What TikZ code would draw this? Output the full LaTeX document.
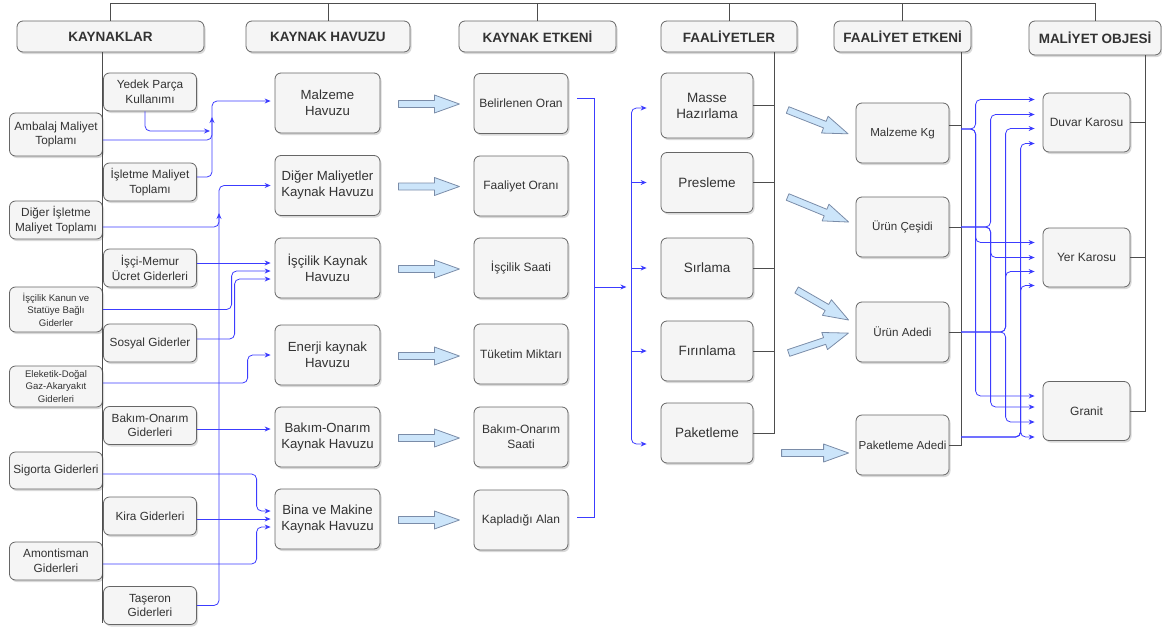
\documentclass[tikz,border=0pt]{standalone}
\usepackage{fontspec}
\setmainfont{Liberation Sans}
\usetikzlibrary{arrows.meta,calc,shadows}

\definecolor{boxfill}{HTML}{F5F5F5}
\definecolor{boxline}{HTML}{666666}
\definecolor{boxtext}{HTML}{333333}
\definecolor{flowblue}{HTML}{3C3CFF}
\definecolor{spinegray}{HTML}{4D4D4D}
\definecolor{fatfill}{HTML}{CCE5FA}
\definecolor{fatline}{HTML}{7A8CA8}

% block arrow: start, angle, length
\newcommand\fatarrow[3]{%
  \begin{scope}[shift={#1}, rotate=#2]
    \draw[fat] (0,-3.5) -- (#3-25,-3.5) -- (#3-25,-9) -- (#3,0) -- (#3-25,9) -- (#3-25,3.5) -- (0,3.5) -- cycle;
  \end{scope}}

\begin{document}
\begin{tikzpicture}[
    x=1pt, y=-1pt, >=Stealth,
    box/.style={rectangle, rounded corners=6pt, draw=boxline, fill=boxfill, text=boxtext, align=center, inner sep=2pt, line width=0.8pt,
        drop shadow={shadow xshift=1.5pt, shadow yshift=-2pt, opacity=0.3}},
    head/.style={box, font=\fontsize{13.5}{15}\selectfont\bfseries, minimum height=31pt},
    src/.style={box, minimum width=93pt, minimum height=38pt, font=\fontsize{11.8}{14.5}\selectfont},
    threeline/.style={font=\fontsize{9.6}{12.5}\selectfont},
    pool/.style={box, minimum width=105pt, minimum height=60pt, font=\fontsize{13.2}{16}\selectfont},
    drv/.style={box, minimum width=94pt, minimum height=60pt, font=\fontsize{12}{15}\selectfont},
    act/.style={box, minimum width=92pt, minimum height=60pt, font=\fontsize{13.5}{16}\selectfont},
    adrv/.style={box, minimum width=93pt, minimum height=60pt, font=\fontsize{11.6}{14}\selectfont},
    obj/.style={box, minimum width=87pt, minimum height=59pt, font=\fontsize{12}{14}\selectfont},
    spine/.style={draw=spinegray, line width=0.9pt},
    flow/.style={draw=flowblue, line width=0.8pt, rounded corners=5pt, -{Stealth[length=6pt, width=5pt]}},
    bline/.style={draw=flowblue, line width=0.8pt},
    gap/.style={shorten >=#1},
    fat/.style={draw=fatline, fill=fatfill, line width=0.8pt, line join=round}
]
    \useasboundingbox (0,0) rectangle (1162,629);

    % Headers
    \node[head, minimum width=187pt] (hK) at (110.5,36.5) {KAYNAKLAR};
    \node[head, minimum width=164pt] (hH) at (328,36.5) {KAYNAK HAVUZU};
    \node[head, minimum width=157pt] (hE) at (537.5,36.5) {KAYNAK ETKENİ};
    \node[head, minimum width=136pt] (hF) at (729,36.5) {FAALİYETLER};
    \node[head, minimum width=137pt] (hFE) at (902.5,36.5) {FAALİYET ETKENİ};
    \node[head, minimum width=132pt, minimum height=34pt] (hO) at (1095,38) {MALİYET OBJESİ};

    % Kaynaklar
    \node[src, minimum height=43pt] (amb) at (56,134.5) {Ambalaj Maliyet\\Toplamı};
    \node[src] (digi) at (56,220) {Diğer İşletme\\Maliyet Toplamı};
    \node[src, threeline, minimum height=45pt] (kanun) at (56,309.5) {İşçilik Kanun ve\\Statüye Bağlı\\Giderler};
    \node[src, threeline, minimum height=41pt] (elek) at (56,386.5) {Eleketik-Doğal\\Gaz-Akaryakıt\\Giderleri};
    \node[src, minimum height=37pt] (sig) at (56,470.5) {Sigorta Giderleri};
    \node[src] (amo) at (56,561) {Amontisman\\Giderleri};

    \node[src] (yedek) at (150,92) {Yedek Parça\\Kullanımı};
    \node[src] (islet) at (150,182) {İşletme Maliyet\\Toplamı};
    \node[src] (isci) at (150,268) {İşçi-Memur\\Ücret Giderleri};
    \node[src] (sosyal) at (150,343) {Sosyal Giderler};
    \node[src] (bakg) at (150,425.5) {Bakım-Onarım\\Giderleri};
    \node[src] (kira) at (150,516) {Kira Giderleri};
    \node[src] (taser) at (150,605.5) {Taşeron\\Giderleri};

    % Kaynak havuzu
    \node[pool] (malz) at (327.5,103) {Malzeme\\Havuzu};
    \node[pool] (dmk) at (327.5,185.5) {Diğer Maliyetler\\Kaynak Havuzu};
    \node[pool] (iscp) at (327.5,268) {İşçilik Kaynak\\Havuzu};
    \node[pool] (enp) at (327.5,355) {Enerji kaynak\\Havuzu};
    \node[pool] (bakp) at (327.5,437) {Bakım-Onarım\\Kaynak Havuzu};
    \node[pool] (binp) at (327.5,519) {Bina ve Makine\\Kaynak Havuzu};

    % Kaynak etkeni
    \node[drv] (belo) at (521,103.5) {Belirlenen Oran};
    \node[drv] (faor) at (521,186) {Faaliyet Oranı};
    \node[drv] (issa) at (521,268) {İşçilik Saati};
    \node[drv] (tuke) at (521,354) {Tüketim Miktarı};
    \node[drv] (bosa) at (521,437) {Bakım-Onarım\\Saati};
    \node[drv] (kapl) at (521,520) {Kapladığı Alan};

    % Faaliyetler
    \node[act, minimum height=65pt] (masse) at (707,105.5) {Masse\\Hazırlama};
    \node[act] (pres) at (707,182.5) {Presleme};
    \node[act] (sirl) at (707,268) {Sırlama};
    \node[act] (firin) at (707,351) {Fırınlama};
    \node[act] (pak) at (707,433) {Paketleme};

    % Faaliyet etkeni
    \node[adrv] (mk) at (902.5,133) {Malzeme Kg};
    \node[adrv] (uc) at (902.5,227) {Ürün Çeşidi};
    \node[adrv] (ua) at (902.5,332) {Ürün Adedi};
    \node[adrv] (pa) at (902.5,445) {Paketleme Adedi};

    % Maliyet objesi
    \node[obj] (duvar) at (1086.5,122.5) {Duvar Karosu};
    \node[obj] (yer) at (1086.5,257.5) {Yer Karosu};
    \node[obj] (granit) at (1086.5,411) {Granit};

    % Tree lines
    \coordinate (top) at (0,3);
    \draw[spine] (hK.north) |- (hO.north |- top) -- (hO.north);
    \foreach \h in {hH,hE,hF,hFE}
        \draw[spine] (\h.north) -- (\h.north |- top);
    \draw[spine] (hK.south -| amb.east) -- ($(taser.south -| amb.east)+(0,-2)$);

    \coordinate (spF) at ($(hF.south)+(45,0)$);
    \draw[spine] (spF) |- (pak.east);
    \foreach \a in {masse,pres,sirl,firin}
        \draw[spine] (\a.east) -- (\a.east -| spF);

    \coordinate (spFE) at ($(hFE.south)+(58.5,0)$);
    \draw[spine] (spFE) |- (pa.east);
    \draw[spine] ($(mk.east)+(0,-8)$) -- ($(mk.east -| spFE)+(0,-8)$);
    \foreach \a in {uc,ua}
        \draw[spine] (\a.east) -- (\a.east -| spFE);

    \coordinate (spO) at ($(hO.south)+(50,0)$);
    \draw[spine] (spO) |- (granit.east);
    \foreach \a in {duvar,yer}
        \draw[spine] (\a.east) -- (\a.east -| spO);

    % Kaynaklar -> havuzlar
    \coordinate (tA) at (212,0);
    \coordinate (tB) at (219,0);
    \draw[flow] ([xshift=-5pt]yedek.south) |- ($(tA)+(-2,131)$);
    \draw[flow] ($(amb.east)+(0,5.5)$) -| ($(tA)+(0,117)$);
    \draw[flow, gap=4pt] ($(islet.east)+(0,-5)$) -| ($(tA |- malz.west)+(0,-2)$) -- ($(malz.west)+(0,-2)$);
    \draw[flow, gap=4pt] (taser.east) -| (tB |- dmk.west) -- (dmk.west);
    \draw[flow] ($(digi.east)+(0,7)$) -| ($(tB)+(0,213)$);
    \draw[flow, gap=4pt] ($(isci.east)+(0,-5)$) -- ($(iscp.west)+(0,-5)$);
    \draw[flow, gap=4pt] (kanun.east) -| ($(iscp.west)+(-43,3)$) -- ($(iscp.west)+(0,3)$);
    \draw[flow, gap=4pt] ($(sosyal.east)+(0,-4)$) -| ($(iscp.west)+(-40,11)$) -- ($(iscp.west)+(0,11)$);
    \draw[flow, gap=4pt] ($(elek.east)+(0,-3.5)$) -| ($(enp.west)+(-27,0)$) -- (enp.west);
    \draw[flow, gap=4pt] ($(bakg.east)+(0,3.5)$) -- ($(bakp.west)+(0,-8)$);
    \draw[flow, gap=4pt] ($(sig.east)+(0,3.5)$) -| ($(binp.west)+(-18,-8)$) -- ($(binp.west)+(0,-8)$);
    \draw[flow, gap=4pt] ($(kira.east)+(0,3)$) -- (binp.west);
    \draw[flow, gap=4pt] ($(amo.east)+(0,3)$) -| ($(binp.west)+(-18,8)$) -- ($(binp.west)+(0,8)$);

    % Havuz -> etken
    \foreach \p in {malz,dmk,iscp,enp,bakp,binp}
        \fatarrow{($(\p.east)+(18,1)$)}{0}{61};

    % Etken -> faaliyetler
    \draw[bline] ($(belo.east)+(9,-5)$) -| ($(kapl.east)+(26,-3)$) -- ($(kapl.east)+(9,-3)$);
    \coordinate (brk) at ($(issa.east)+(26,19)$);
    \coordinate (fan) at ($(brk)+(37,0)$);
    \draw[flow] (brk) -- ($(fan)+(-5,0)$);
    \draw[flow, gap=14pt] (fan) |- ($(masse.west)+(0,2.5)$);
    \draw[flow, gap=14pt] (fan) |- ($(pak.west)+(0,11)$);
    \foreach \a in {pres,sirl,firin}
        \draw[flow, gap=14pt] (fan |- \a.west) -- (\a.west);

    % Faaliyetler -> faaliyet etkeni
    \fatarrow{($(mk.west)+(-68,-23)$)}{-21.5}{65}
    \fatarrow{($(uc.west)+(-68,-30)$)}{-22.3}{66}
    \fatarrow{($(ua.west)+(-59,-42)$)}{-30}{60}
    \fatarrow{($(ua.west)+(-67,21)$)}{18.4}{63}
    \fatarrow{($(pa.west)+(-74,8)$)}{0}{67}

    % Faaliyet etkeni -> maliyet objesi
    \coordinate (s1) at ($(mk.east -| spFE)+(0,-4)$);
    \coordinate (s2) at (uc.east -| spFE);
    \coordinate (s3) at (ua.east -| spFE);
    \coordinate (s4) at ($(pa.east -| spFE)+(0,-8)$);
    \foreach \s/\t/\da/\db/\dc in {s1/-67/-23/-15/-15, s2/-52/-8/0/-4, s3/-37/6/14/11, s4/-22/21/28/26}{
        \draw[flow, gap=8pt] (\s) -| ($(duvar.west)+(\t,\da)$) -- ($(duvar.west)+(0,\da)$);
        \draw[flow, gap=8pt] (\s) -| ($(yer.west)+(\t,\db)$) -- ($(yer.west)+(0,\db)$);
        \draw[flow, gap=8pt] (\s) -| ($(granit.west)+(\t,\dc)$) -- ($(granit.west)+(0,\dc)$);
    }
\end{tikzpicture}
\end{document}
